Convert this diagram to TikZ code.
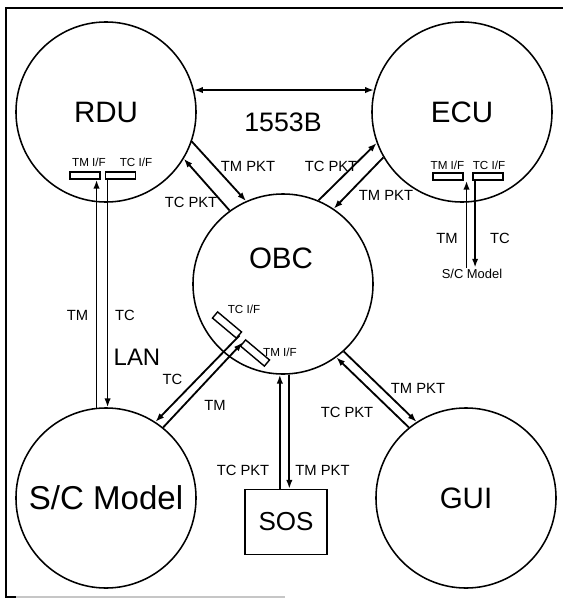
\documentclass[tikz,border=0pt]{standalone}
\usepackage{fontspec}
\setmainfont{Liberation Sans}
\usetikzlibrary{arrows.meta}

\begin{document}
\begin{tikzpicture}[
  x=0.025cm, y=-0.025cm,
  unit/.style={
    draw,
    circle,
    line width=1.1pt,
    minimum size=4.5cm,
    inner sep=0pt,
    font=\fontsize{21}{21}\selectfont
  },
  ifbox/.style={
    draw,
    line width=1pt,
    minimum width=0.75cm,
    minimum height=0.18cm,
    inner sep=0pt
  },
  iflabel/.style={font=\fontsize{8.3}{8.3}\selectfont, inner sep=1pt},
  sig/.style={font=\fontsize{10.5}{10.5}\selectfont, inner sep=1pt},
  flow/.style={-{Latex[length=2.2mm,width=1.6mm]}, line width=1.3pt},
  bus/.style={{Latex[length=2.2mm,width=1.6mm]}-{Latex[length=2.2mm,width=1.6mm]}, line width=1.1pt}
]
  \useasboundingbox (0,0) rectangle (563,599);
  \draw[line width=1pt] (563,8) -- (6,8) -- (6,597) -- (16,597);
  \draw[gray!45, line width=0.8pt] (16,597) -- (285,597);

  \node[unit] (rdu) at (106,112) {RDU};
  \node[unit] (ecu) at (462,112) {ECU};
  \node[unit] (obc) at (283,284) {};
  \node[font=\fontsize{21}{21}\selectfont] (obc-name) at (281,258) {OBC};
  \node[unit, font=\fontsize{23.5}{23.5}\selectfont] (sc-model) at (106,498) {S/C Model};
  \node[unit] (gui) at (466,498) {GUI};
  \node[draw, line width=1.1pt, minimum width=2.05cm, minimum height=1.625cm,
    font=\fontsize{18.5}{18.5}\selectfont] (sos) at (286,522) {SOS};

  \node[ifbox] (rdu-tm) at (85,175.5) {};
  \node[ifbox] (rdu-tc) at (120.5,175.5) {};
  \node[iflabel] (rdu-tm-name) at (89,162.5) {TM I/F};
  \node[iflabel] (rdu-tc-name) at (136,162.5) {TC I/F};

  \node[ifbox] (ecu-tm) at (448,176.5) {};
  \node[ifbox] (ecu-tc) at (488,176.5) {};
  \node[iflabel] (ecu-tm-name) at (447.5,165) {TM I/F};
  \node[iflabel] (ecu-tc-name) at (489,165) {TC I/F};

  \node[ifbox, rotate=-40, minimum width=0.78cm, minimum height=0.2cm] (obc-tc) at (227,325) {};
  \node[ifbox, rotate=-40, minimum width=0.78cm, minimum height=0.2cm] (obc-tm) at (255,353) {};
  \node[iflabel] (obc-tc-name) at (244,309) {TC I/F};
  \node[iflabel] (obc-tm-name) at (280,352) {TM I/F};

  \node[sig, font=\fontsize{9.2}{9.2}\selectfont] (ecu-sc) at (472,274) {S/C Model};

  \node[font=\fontsize{19}{19}\selectfont] (bus-name) at (283,122) {1553B};
  \node[font=\fontsize{17}{17}\selectfont] (lan-name) at (137,357) {LAN};

  \node[sig] (rdu-obc-tm) at (248,166) {TM PKT};
  \node[sig] (rdu-obc-tc) at (191,202) {TC PKT};
  \node[sig] (ecu-obc-tc) at (331,166) {TC PKT};
  \node[sig] (ecu-obc-tm) at (386,195) {TM PKT};
  \node[sig] (ecu-tm-sig) at (447,238) {TM};
  \node[sig] (ecu-tc-sig) at (500,238) {TC};
  \node[sig] (lan-tm) at (77.5,315) {TM};
  \node[sig] (lan-tc) at (125,315) {TC};
  \node[sig] (obc-sc-tc) at (172.5,379.5) {TC};
  \node[sig] (obc-sc-tm) at (215,405) {TM};
  \node[sig] (sos-tc) at (243,470) {TC PKT};
  \node[sig] (sos-tm) at (322.5,470) {TM PKT};
  \node[sig] (gui-tm) at (418,388) {TM PKT};
  \node[sig] (gui-tc) at (347,412) {TC PKT};

  \draw[bus] (rdu.14) -- (ecu.166);
  \draw[flow] (rdu.-19) -- (obc.114);
  \draw[flow] (obc.126) -- (rdu.-31);
  \draw[flow] (obc.67) -- (ecu.200);
  \draw[flow] (ecu.210) -- (obc.56);
  \draw[flow] ([xshift=2pt]ecu-sc.north -| ecu-tm.east) -- ([xshift=2pt]ecu-tm.south east);
  \draw[flow] ([xshift=2pt]ecu-tc.south west) -- ([xshift=2pt]ecu-sc.north -| ecu-tc.west);
  \draw[flow] (sc-model.96) -- (sc-model.96 |- rdu-tm.south);
  \draw[flow] (sc-model.89 |- rdu-tc.south) -- (sc-model.89);
  \draw[flow] (obc-tc.east) -- (sc-model.57);
  \draw[flow] (sc-model.51) -- (obc-tm.west);
  \draw[flow] (sos.north -| obc.-92) -- (obc.-92);
  \draw[flow] (obc.-86) -- (obc.-86 |- sos.north);
  \draw[flow] (obc.-48) -- (gui.123);
  \draw[flow] (gui.129) -- (obc.-54);
\end{tikzpicture}
\end{document}
